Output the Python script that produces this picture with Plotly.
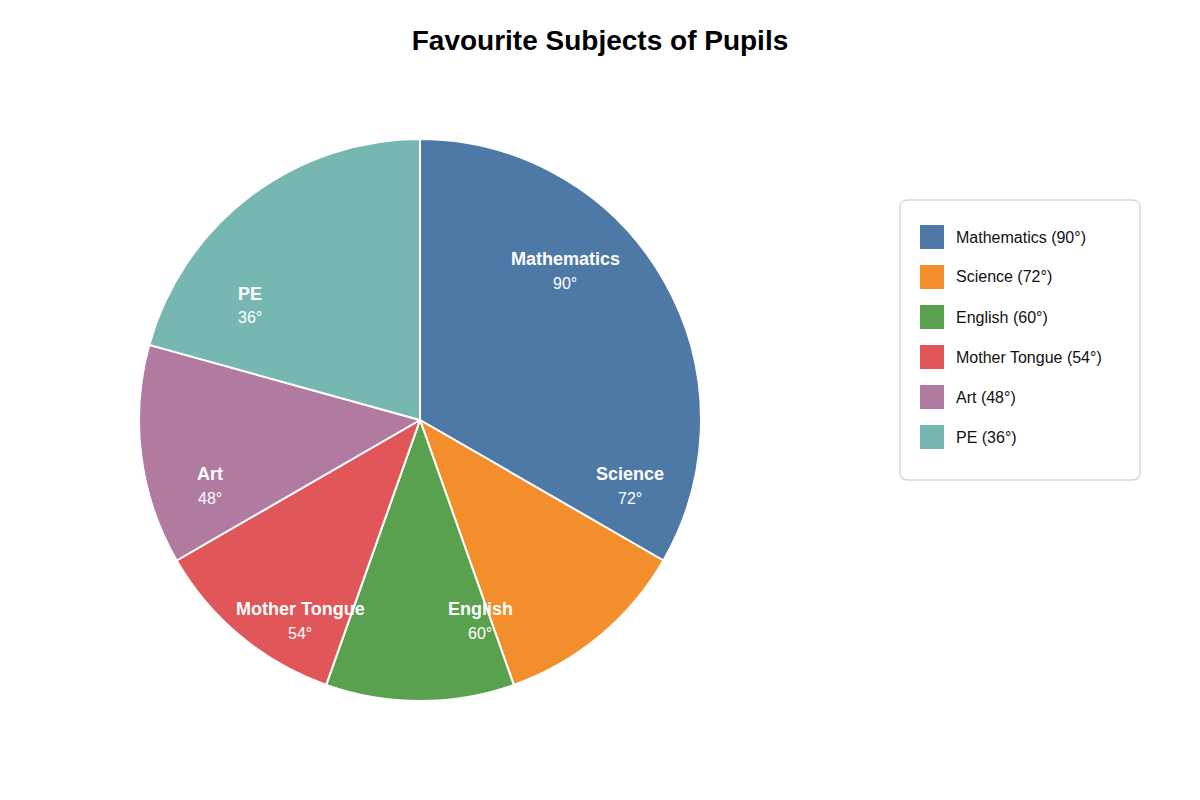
import plotly.graph_objects as go

# ---- data ----
subjects = ["Mathematics", "Science", "English", "Mother Tongue", "Art", "PE"]
degree_labels = [90, 72, 60, 54, 48, 36]          # values printed on the chart
slice_sizes = [120, 40.5, 39, 40.5, 45.5, 74.5]   # slice sizes as drawn in the picture
colors = ["#4e79a7", "#f28e2b", "#59a14f", "#e15759", "#b07aa1", "#76b7b2"]

W, H = 1200, 800
OFF = 8  # page body margin offset
cx, cy, R = 420, 420, 281


def px(x):
    return (x - OFF) / W


def py(y):
    return 1 - (y - OFF) / H


fig = go.Figure()
fig.add_trace(go.Pie(
    labels=subjects,
    values=slice_sizes,
    sort=False,
    direction="clockwise",
    rotation=0,
    marker=dict(colors=colors, line=dict(color="white", width=2)),
    textinfo="none",
    hoverinfo="label",
    showlegend=False,
    domain=dict(x=[px(cx - R), px(cx + R)], y=[py(cy + R), py(cy - R)]),
))

annotations = []
shapes = []

# slice labels (pixel positions of label centres)
label_xy = [(565, 259), (630, 474), (480, 609), (300, 609), (210, 474), (250, 294)]
for name, deg, (lx, ly) in zip(subjects, degree_labels, label_xy):
    annotations.append(dict(x=px(lx), y=py(ly), xref="paper", yref="paper",
                            text=f"<b>{name}</b>", showarrow=False,
                            xanchor="center", yanchor="middle",
                            font=dict(family="Liberation Sans, Arial, sans-serif", size=18, color="white")))
    annotations.append(dict(x=px(lx), y=py(ly + 24), xref="paper", yref="paper",
                            text=f"{deg}°", showarrow=False,
                            xanchor="center", yanchor="middle",
                            font=dict(family="Liberation Sans, Arial, sans-serif", size=16, color="white")))

# legend box with rounded corners
bx0, by0, bx1, by1, r = 900, 200, 1140, 480, 8
path = (f"M {px(bx0 + r)} {py(by0)} L {px(bx1 - r)} {py(by0)} "
        f"Q {px(bx1)} {py(by0)} {px(bx1)} {py(by0 + r)} L {px(bx1)} {py(by1 - r)} "
        f"Q {px(bx1)} {py(by1)} {px(bx1 - r)} {py(by1)} L {px(bx0 + r)} {py(by1)} "
        f"Q {px(bx0)} {py(by1)} {px(bx0)} {py(by1 - r)} L {px(bx0)} {py(by0 + r)} "
        f"Q {px(bx0)} {py(by0)} {px(bx0 + r)} {py(by0)} Z")
shapes.append(dict(type="path", path=path, xref="paper", yref="paper",
                   line=dict(color="#d9d9d9", width=1.5), fillcolor="white"))

for i, (name, deg, col) in enumerate(zip(subjects, degree_labels, colors)):
    y0 = 225 + 40 * i
    shapes.append(dict(type="rect", xref="paper", yref="paper",
                       x0=px(920), x1=px(944), y0=py(y0), y1=py(y0 + 24),
                       fillcolor=col, line=dict(width=0)))
    annotations.append(dict(x=px(954), y=py(y0 + 12), xref="paper", yref="paper",
                            text=f"{name} ({deg}°)", showarrow=False,
                            xanchor="left", yanchor="middle",
                            font=dict(family="Liberation Sans, Arial, sans-serif", size=16, color="#111111")))

fig.update_layout(
    width=W, height=H,
    margin=dict(l=0, r=0, t=0, b=0),
    paper_bgcolor="white", plot_bgcolor="white",
    title=dict(text="<b>Favourite Subjects of Pupils</b>", x=px(600), xanchor="center",
               y=py(40), yanchor="middle", yref="paper",
               font=dict(family="Liberation Sans, Arial, sans-serif", size=28, color="black")),
    annotations=annotations,
    shapes=shapes,
    showlegend=False,
)

fig.write_html("out.html")
